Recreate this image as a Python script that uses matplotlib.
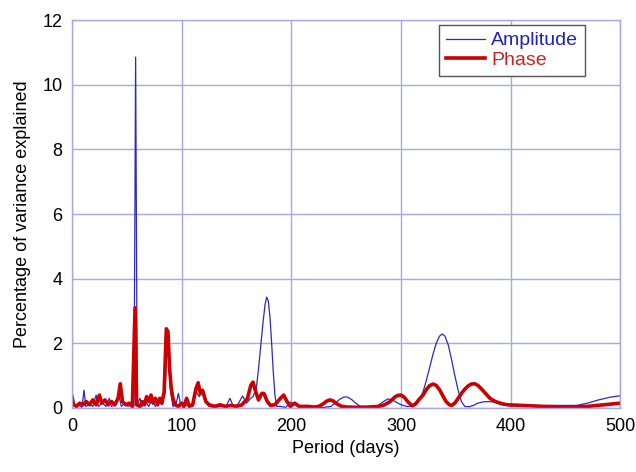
import matplotlib
matplotlib.use("Agg")
import matplotlib.pyplot as plt

# Amplitude series: (period in days, percentage of variance explained)
amp_period = [0, 3, 6, 9, 11, 12.5, 16, 19, 22, 24, 28, 31, 34, 36, 40, 43, 45, 48, 51, 54,
              56.5, 58, 59.5, 62, 64, 67, 70, 73, 76, 79, 82, 85, 86.5, 88, 90, 92, 95, 97,
              99, 102, 106, 110, 113, 116, 119, 122, 125, 130, 136, 140, 144, 147, 151, 155.5,
              159, 163, 165, 168, 170, 172, 174, 176, 177.5, 179, 180.5, 182, 183.5, 185, 186.5,
              190, 195, 199, 205, 210, 220, 230, 236, 240, 244, 248, 251, 255, 259, 263, 270,
              276, 280, 284, 288, 292, 296, 300, 305, 311, 314, 317, 320, 323, 326, 329, 332,
              335, 337.5, 340, 343, 346, 349, 352, 355, 358, 362, 366, 370, 375, 380, 385, 390,
              395, 400, 420, 440, 460, 470, 480, 490, 500]
amp_value = [0.1, 0.05, 0.1, 0.02, 0.55, 0.05, 0.1, 0.05, 0.4, 0.05, 0.15, 0.05, 0.3, 0.05,
             0.1, 0.35, 0.05, 0.15, 0.05, 0.1, 0.05, 10.85, 0.1, 0.3, 0.05, 0.2, 0.05, 0.25,
             0.05, 0.2, 0.1, 0.5, 2.4, 1.5, 0.5, 0.05, 0.15, 0.45, 0.1, 0.05, 0.1, 0.05, 0.5,
             0.35, 0.55, 0.2, 0.05, 0.02, 0.05, 0.02, 0.3, 0.05, 0.1, 0.37, 0.15, 0.3, 0.35,
             0.6, 1.2, 1.9, 2.6, 3.2, 3.43, 3.3, 2.8, 2.0, 1.1, 0.4, 0.05, 0.05, 0.02, 0.18,
             0.1, 0.02, 0.0, 0.02, 0.05, 0.15, 0.27, 0.34, 0.34, 0.26, 0.14, 0.05, 0.02, 0.03,
             0.1, 0.2, 0.28, 0.25, 0.17, 0.1, 0.05, 0.05, 0.12, 0.25, 0.5, 0.85, 1.25, 1.65,
             2.0, 2.22, 2.29, 2.22, 1.95, 1.5, 1.0, 0.55, 0.2, 0.05, 0.04, 0.08, 0.15, 0.19,
             0.2, 0.18, 0.13, 0.09, 0.07, 0.06, 0.08, 0.08, 0.15, 0.25, 0.33, 0.38]

# Phase series
ph_period = [0, 1.5, 4, 7, 10, 13, 16, 19, 22, 25, 27, 30, 33, 36, 39, 42, 44, 46, 49, 52,
             55, 57.5, 59, 62, 64, 66, 68, 70, 72, 74, 76, 78, 80, 82, 84, 86, 87.5, 89, 90.5,
             92, 94, 97, 100, 102, 104.5, 107, 110, 113, 115, 117, 119, 122, 125, 130, 135,
             140, 145, 150, 155, 160, 163, 165, 167.5, 170, 173, 175, 178, 181, 185, 190, 193,
             196, 199, 203, 207, 215, 221, 225, 229, 232, 235, 238, 241, 245, 250, 260, 270,
             280, 285, 290, 294, 297, 300, 303, 306, 310, 313, 316, 320, 323, 326, 329, 332,
             335, 338, 341, 344, 346, 349, 352, 355, 358, 361, 364, 367, 370, 373, 377, 381,
             386, 392, 397, 410, 430, 450, 470, 485, 500]
ph_value = [0.35, 0.1, 0.05, 0.15, 0.1, 0.2, 0.1, 0.25, 0.1, 0.4, 0.15, 0.25, 0.1, 0.2, 0.1,
            0.3, 0.75, 0.2, 0.1, 0.15, 0.05, 3.1, 0.1, 0.05, 0.2, 0.1, 0.35, 0.2, 0.4, 0.15,
            0.3, 0.1, 0.3, 0.15, 0.5, 2.45, 2.35, 1.2, 0.6, 0.3, 0.1, 0.05, 0.15, 0.05, 0.3,
            0.05, 0.1, 0.6, 0.78, 0.45, 0.55, 0.2, 0.1, 0.05, 0.1, 0.05, 0.08, 0.05, 0.1, 0.3,
            0.7, 0.8, 0.5, 0.25, 0.45, 0.45, 0.2, 0.08, 0.1, 0.3, 0.4, 0.2, 0.05, 0.15, 0.05,
            0.05, 0.03, 0.05, 0.13, 0.21, 0.25, 0.22, 0.14, 0.06, 0.03, 0.02, 0.03, 0.05, 0.1,
            0.2, 0.33, 0.39, 0.4, 0.33, 0.2, 0.07, 0.12, 0.25, 0.4, 0.57, 0.69, 0.74, 0.7,
            0.57, 0.38, 0.2, 0.1, 0.08, 0.15, 0.3, 0.45, 0.58, 0.68, 0.74, 0.75, 0.7, 0.6,
            0.45, 0.3, 0.2, 0.13, 0.1, 0.08, 0.05, 0.03, 0.05, 0.1, 0.15]

x_ticks = [0, 100, 200, 300, 400, 500]
y_ticks = [0, 2, 4, 6, 8, 10, 12]

grid_col = "#a8a8e8"
plt.rcParams["font.family"] = ["Liberation Sans", "DejaVu Sans"]

fig = plt.figure(figsize=(6.36, 4.72), dpi=100)
ax = fig.add_axes([0.1132, 0.1356, 0.8624, 0.822])

ax.plot(amp_period, amp_value, color="#2a2ac0", lw=0.9, label="Amplitude")
ax.plot(ph_period, ph_value, color="#cc0000", lw=2.6, label="Phase",
        solid_joinstyle="round")

ax.set_xlim(0, 500)
ax.set_ylim(0, 12)
ax.set_xticks(x_ticks)
ax.set_yticks(y_ticks)
ax.grid(True, color=grid_col, lw=1.0)
ax.set_axisbelow(True)
for s in ax.spines.values():
    s.set_color(grid_col)
    s.set_linewidth(1.0)
ax.tick_params(length=0, pad=7, labelsize=13)

ax.set_xlabel("Period (days)", fontsize=13, labelpad=4)
ax.set_ylabel("Percentage of variance explained", fontsize=13, labelpad=8)

leg = ax.legend(loc="upper right", bbox_to_anchor=(0.935, 0.987), borderaxespad=0,
                fontsize=14, handlelength=2.0, handletextpad=0.3, borderpad=0.35,
                labelspacing=0.1, fancybox=False, framealpha=1.0, edgecolor="#555555")
leg.get_frame().set_linewidth(1.0)
leg.get_texts()[0].set_color("#2020c0")
leg.get_texts()[1].set_color("#cc2222")

fig.savefig("out.png", dpi=100)
